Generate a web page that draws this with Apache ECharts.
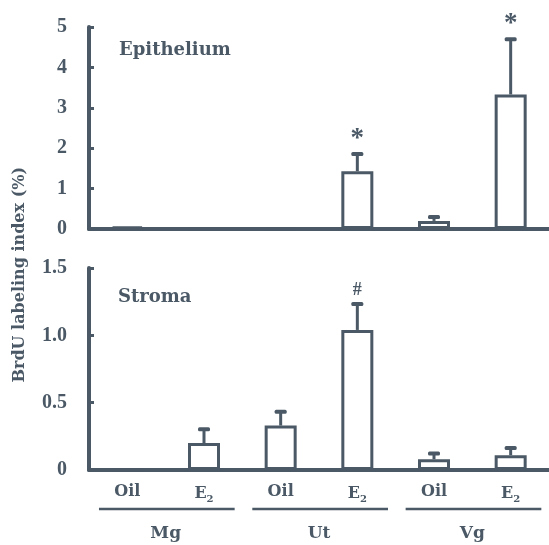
<!DOCTYPE html>
<html>
<head>
<meta charset="utf-8">
<script src="https://cdn.jsdelivr.net/npm/echarts@6/dist/echarts.min.js"></script>
<style>
  html, body { margin: 0; padding: 0; background: #fff; }
  #chart { width: 549px; height: 545px; }
</style>
</head>
<body>
<div id="chart"></div>
<script>
// Tissue groups and treatments along the x axis
const groups = ['Mg', 'Ut', 'Vg'];
const treatments = ['Oil', 'E2'];
const categories = groups.flatMap(g => treatments.map(t => g + ' ' + t));

// BrdU labeling index (%), mean and mean + SEM
const epithelium = [0.06, 0, 0, 1.43, 0.2, 3.33];
const epitheliumErr = [null, null, null, 1.88, 0.32, 4.72];
const epitheliumMark = ['', '', '', '*', '', '*'];

const stroma = [0, 0.2, 0.33, 1.04, 0.08, 0.11];
const stromaErr = [null, 0.31, 0.44, 1.24, 0.13, 0.17];
const stromaMark = ['', '', '', '#', '', ''];

// Y axis ticks
const epiTicks = { min: 0, max: 5, interval: 1 };
const stromaTicks = { min: 0, max: 1.5, interval: 0.5 };

const INK = '#4b5966';
const SERIF = '"Liberation Serif", "DejaVu Serif", serif';
const WIDE_SERIF = '"DejaVu Serif", serif';

const chart = echarts.init(document.getElementById('chart'), null, { renderer: 'canvas' });

function errorSeries(gridIdx, means, tops, marks, markSize, markLift) {
  return {
    type: 'custom',
    xAxisIndex: gridIdx,
    yAxisIndex: gridIdx,
    clip: false,
    z: 3,
    data: means.map((m, i) => [i, m, tops[i] == null ? m : tops[i]]),
    renderItem(params, api) {
      const i = params.dataIndex;
      const children = [];
      const base = api.coord([api.value(0), api.value(1)]);
      let topY = base[1];
      if (tops[i] != null) {
        const top = api.coord([api.value(0), api.value(2)]);
        topY = top[1];
        children.push({
          type: 'line',
          shape: { x1: base[0], y1: base[1], x2: top[0], y2: top[1] + 2 },
          style: { stroke: INK, lineWidth: 3 }
        });
        children.push({
          type: 'rect',
          shape: { x: top[0] - 6, y: top[1] - 1, width: 12, height: 4, r: 1.5 },
          style: { fill: INK }
        });
      }
      if (marks[i]) {
        children.push({
          type: 'text',
          x: base[0],
          y: topY - markLift,
          style: {
            text: marks[i], fill: INK, font: 'bold ' + markSize + 'px ' + SERIF,
            align: 'center', verticalAlign: 'bottom'
          }
        });
      }
      return { type: 'group', children };
    }
  };
}

const tickLabel = {
  margin: 22, fontFamily: SERIF, fontWeight: 'bold', fontSize: 20, color: INK,
  padding: [7, 0, 0, 0]
};

const option = {
  animation: false,
  backgroundColor: '#fff',
  title: [
    { text: 'Epithelium', left: 114, top: 36,
      textStyle: { fontFamily: WIDE_SERIF, fontWeight: 'bold', fontSize: 18, color: INK } },
    { text: 'Stroma', left: 113, top: 283,
      textStyle: { fontFamily: WIDE_SERIF, fontWeight: 'bold', fontSize: 18, color: INK } }
  ],
  graphic: [{
    type: 'text',
    left: 12,
    top: 167,
    rotation: Math.PI / 2,
    style: {
      text: 'BrdU labeling index (%)', fill: INK,
      font: 'bold 16px ' + WIDE_SERIF
    }
  }],
  grid: [
    { left: 89, right: 0, top: 27, height: 202 },
    { left: 89, right: 0, top: 268, height: 202 }
  ],
  xAxis: [
    {
      type: 'category', gridIndex: 0, data: categories,
      axisLine: { lineStyle: { color: INK, width: 4 } },
      axisTick: { show: false }, axisLabel: { show: false }
    },
    {
      type: 'category', gridIndex: 1, data: categories,
      axisLine: { lineStyle: { color: INK, width: 4 } },
      axisTick: { show: false },
      axisLabel: {
        margin: 14,
        formatter: v => v.endsWith('E2') ? '{t|E}{s|2}' : '{t|Oil}',
        rich: {
          t: { fontFamily: WIDE_SERIF, fontWeight: 'bold', fontSize: 16, color: INK },
          s: { fontFamily: WIDE_SERIF, fontWeight: 'bold', fontSize: 10, color: INK, padding: [10, 0, 0, 0] }
        }
      }
    },
    {
      type: 'category', gridIndex: 1, data: groups, position: 'bottom',
      axisLine: { show: false }, axisTick: { show: false },
      axisLabel: { margin: 55, fontFamily: WIDE_SERIF, fontWeight: 'bold', fontSize: 17, color: INK }
    }
  ],
  yAxis: [
    Object.assign({
      type: 'value', gridIndex: 0,
      axisLine: { show: true, lineStyle: { color: INK, width: 4 } },
      axisTick: { show: true, inside: true, length: 5, lineStyle: { color: INK, width: 3 } },
      splitLine: { show: false },
      axisLabel: Object.assign({ formatter: v => String(v) }, tickLabel)
    }, epiTicks),
    Object.assign({
      type: 'value', gridIndex: 1,
      axisLine: { show: true, lineStyle: { color: INK, width: 4 } },
      axisTick: { show: true, inside: true, length: 5, lineStyle: { color: INK, width: 3 } },
      splitLine: { show: false },
      axisLabel: Object.assign({ formatter: v => v === 0 ? '0' : v.toFixed(1) }, tickLabel)
    }, stromaTicks)
  ],
  series: [
    {
      type: 'bar', xAxisIndex: 0, yAxisIndex: 0, data: epithelium, barWidth: 32,
      itemStyle: { color: '#fff', borderColor: INK, borderWidth: 3 }
    },
    errorSeries(0, epithelium, epitheliumErr, epitheliumMark, 27, 1),
    {
      type: 'bar', xAxisIndex: 1, yAxisIndex: 1, data: stroma, barWidth: 32,
      itemStyle: { color: '#fff', borderColor: INK, borderWidth: 3 }
    },
    errorSeries(1, stroma, stromaErr, stromaMark, 18, 4),
    {
      // group brackets under each tissue's pair of treatments
      type: 'custom', xAxisIndex: 1, yAxisIndex: 1, clip: false, silent: true,
      data: groups.map((g, k) => [2 * k, 0, 2 * k + 1]),
      renderItem(params, api) {
        const a = api.coord([api.value(0), 0]);
        const b = api.coord([api.value(2), 0]);
        const band = api.size([1, 0])[0];
        return {
          type: 'line',
          shape: { x1: a[0] - 0.37 * band, y1: a[1] + 39, x2: b[0] + 0.4 * band, y2: a[1] + 39 },
          style: { stroke: INK, lineWidth: 2.5 }
        };
      }
    }
  ]
};

chart.setOption(option);
</script>
</body>
</html>
